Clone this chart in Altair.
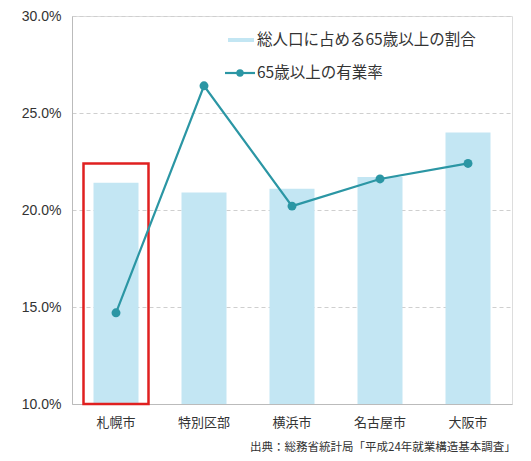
import altair as alt
import pandas as pd

cities = ["札幌市", "特別区部", "横浜市", "名古屋市", "大阪市"]
elderly_share = [21.4, 20.9, 21.1, 21.7, 24.0]      # 総人口に占める65歳以上の割合 (%)
employment_rate = [14.7, 26.4, 20.2, 21.6, 22.4]   # 65歳以上の有業率 (%)
series_names = ["総人口に占める65歳以上の割合", "65歳以上の有業率"]
highlight_city = ["札幌市"]
highlight_top = [22.4]
y_ticks = [10, 15, 20, 25, 30]
source_note = ["出典：総務省統計局「平成24年就業構造基本調査」"]

FONT = "Noto Sans CJK JP"
BAR = "#c3e6f3"
LINE = "#2b96a4"

df = pd.DataFrame({"city": cities, "share": elderly_share, "rate": employment_rate,
                   "base": [10] * len(cities)})
hl = pd.DataFrame({"city": highlight_city, "top": highlight_top, "base": [10]})

W, H = 440, 388
x = alt.X("city:N", sort=cities, title=None,
          axis=alt.Axis(labelFont=FONT, labelFontSize=13, labelColor="#333", labelAngle=0,
                        labelPadding=12, ticks=False, domainColor="#bbb", domainWidth=1))
yscale = alt.Scale(domain=[10, 30], nice=False, zero=False)
yaxis = alt.Axis(values=y_ticks, labelExpr="format(datum.value,'.1f')+'%'",
                 labelFont="Liberation Sans", labelFontSize=14, labelColor="#333",
                 labelPadding=11, ticks=False, domainColor="#bbb",
                 grid=True, gridDash=[4, 3], gridColor="#cfcfcf", title=None)

base = alt.Chart(df)
bars = base.mark_bar(color=BAR, size=45).encode(
    x=x, y=alt.Y("share:Q", scale=yscale, axis=yaxis), y2="base:Q")
line = base.mark_line(color=LINE, strokeWidth=2.2).encode(
    x=x, y=alt.Y("rate:Q", scale=yscale))
pts = base.mark_point(color=LINE, filled=True, size=80, opacity=1, shape="circle").encode(
    x=x, y=alt.Y("rate:Q", scale=yscale))
box = alt.Chart(hl).mark_bar(filled=False, stroke="#e02020", strokeWidth=2.5, size=65).encode(
    x=x, y=alt.Y("top:Q", scale=yscale), y2="base:Q")

leg = pd.DataFrame({"name": series_names, "ypix": [24, 57]})
leg_bar = alt.Chart(leg.iloc[[0]]).mark_rule(color=BAR, strokeWidth=4).encode(
    x=alt.value(156), x2=alt.value(182), y=alt.value(24))
leg_line = alt.Chart(leg.iloc[[1]]).mark_rule(color=LINE, strokeWidth=2.2).encode(
    x=alt.value(153), x2=alt.value(183), y=alt.value(57))
leg_pt = alt.Chart(leg.iloc[[1]]).mark_point(color=LINE, filled=True, size=55, shape="circle", opacity=1).encode(
    x=alt.value(168), y=alt.value(57))
leg_txt = alt.Chart(leg).mark_text(font=FONT, fontSize=15.5, color="#333", align="left", baseline="middle").encode(
    x=alt.value(185), y=alt.Y("ypix:Q", scale=None), text="name:N")

src = alt.Chart(pd.DataFrame({"t": source_note})).mark_text(
    font=FONT, fontSize=11.5, color="#333", align="left", baseline="middle").encode(
    x=alt.value(178), y=alt.value(432), text="t:N")

chart = alt.layer(bars, box, line, pts, leg_bar, leg_line, leg_pt, leg_txt, src).properties(
    width=W, height=H,
    autosize=alt.AutoSizeParams(type="none"),
    padding={"left": 72, "top": 16, "right": 19, "bottom": 57},
).configure_view(stroke=None).configure(background="white")

chart.save("out.html", embed_options={"renderer": "svg", "actions": False})
